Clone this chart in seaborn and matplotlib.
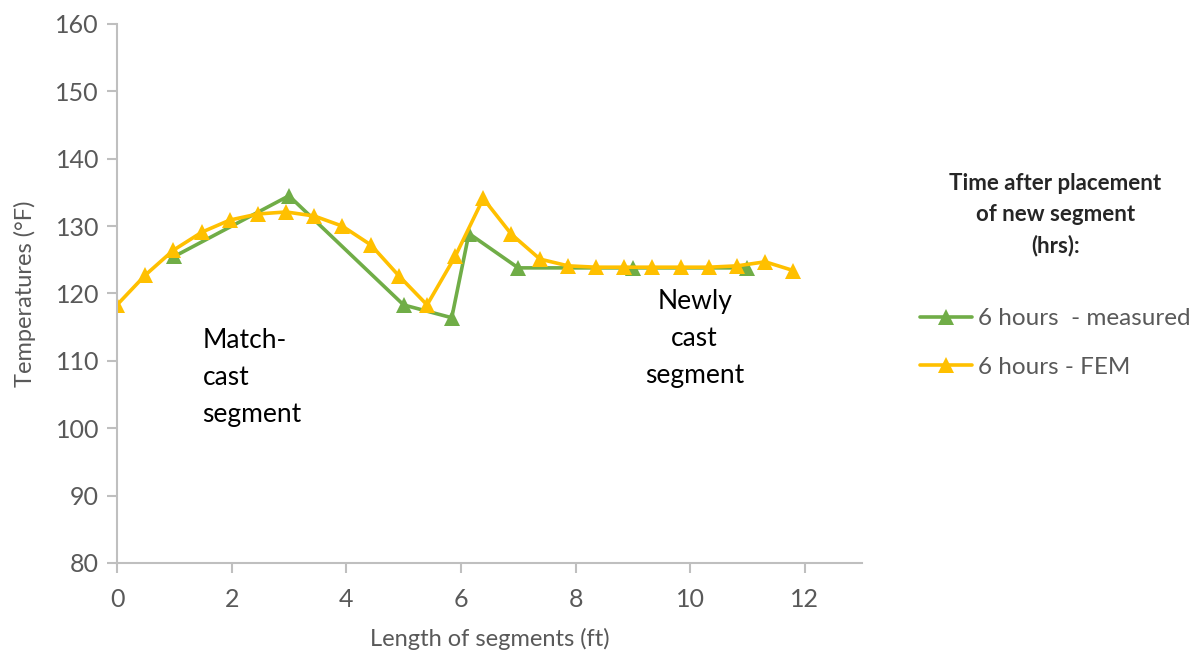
import numpy as np
import pandas as pd
import seaborn as sns
import matplotlib.pyplot as plt

# measured temperatures (6 hours)
meas_x = [1.0, 3.0, 5.0, 5.84, 6.14, 7.0, 9.0, 11.0]
meas_y = [125.5, 134.5, 118.3, 116.4, 128.9, 123.8, 123.8, 123.8]

# FEM temperatures (6 hours)
fem_x = [0.0, 0.49, 0.98, 1.48, 1.97, 2.46, 2.95, 3.44, 3.93, 4.43, 4.92, 5.41, 5.9,
         6.39, 6.88, 7.38, 7.87, 8.36, 8.85, 9.34, 9.84, 10.33, 10.82, 11.31, 11.8]
fem_y = [118.3, 122.7, 126.4, 129.1, 130.9, 131.8, 132.1, 131.5, 130.0, 127.2, 122.6, 118.3, 125.5,
         134.1, 128.8, 125.1, 124.1, 123.9, 123.9, 123.9, 123.9, 123.9, 124.1, 124.7, 123.4]

x_ticks = [0, 2, 4, 6, 8, 10, 12]
y_ticks = [80, 90, 100, 110, 120, 130, 140, 150, 160]

sns.set_style('ticks')
plt.rcParams['font.family'] = ['Lato', 'DejaVu Sans']

green = '#70AD47'
yellow = '#FFC000'
grey_txt = '#595959'
spine = '#BFBFBF'

fig = plt.figure(figsize=(11.99, 6.66), dpi=100)
ax = fig.add_axes([0.0976, 0.1547, 0.719 - 0.0976, 0.964 - 0.1547])

meas_df = pd.DataFrame({'x': meas_x, 'y': meas_y})
fem_df = pd.DataFrame({'x': fem_x, 'y': fem_y})

sns.lineplot(data=meas_df, x='x', y='y', ax=ax, sort=False, color=green, lw=2.6,
             marker='^', markersize=12, markeredgewidth=0, label='6 hours  - measured')
sns.lineplot(data=fem_df, x='x', y='y', ax=ax, sort=False, color=yellow, lw=2.6,
             marker='^', markersize=12, markeredgewidth=0, label='6 hours - FEM')

ax.set_xlim(0, 13)
ax.set_ylim(80, 160)
ax.set_xticks(x_ticks)
ax.set_yticks(y_ticks)
ax.tick_params(axis='both', which='major', bottom=True, left=True, direction='out',
               labelsize=18, labelcolor=grey_txt, length=7, width=1.5, color=spine, pad=6)
ax.tick_params(axis='x', pad=11)

for s in ['top', 'right']:
    ax.spines[s].set_visible(False)
for s in ['left', 'bottom']:
    ax.spines[s].set_color(spine)
    ax.spines[s].set_linewidth(1.5)

ax.set_xlabel('Length of segments (ft)', fontsize=17, color=grey_txt, labelpad=12)
ax.set_ylabel('Temperatures (°F)', fontsize=17, color=grey_txt, labelpad=14)

# region labels
ax.text(1.49, 114.9, 'Match-\ncast\nsegment', fontsize=19, color='black',
        ha='left', va='top', linespacing=1.6)
ax.text(10.08, 120.6, 'Newly\ncast\nsegment', fontsize=19, color='black',
        ha='center', va='top', linespacing=1.6, multialignment='center')

# legend
fig.text(0.88, 0.740, 'Time after placement\nof new segment\n(hrs):', fontsize=16,
         fontweight='bold', ha='center', va='top', linespacing=1.55)
leg = ax.legend(loc='upper left', bbox_to_anchor=(0.767, 0.537), bbox_transform=fig.transFigure,
                frameon=False, fontsize=17.5, handlelength=2.15, handletextpad=0.25,
                labelspacing=1.12, borderpad=0, borderaxespad=0)
for t in leg.get_texts():
    t.set_color(grey_txt)

fig.savefig('out.png', dpi=100)
